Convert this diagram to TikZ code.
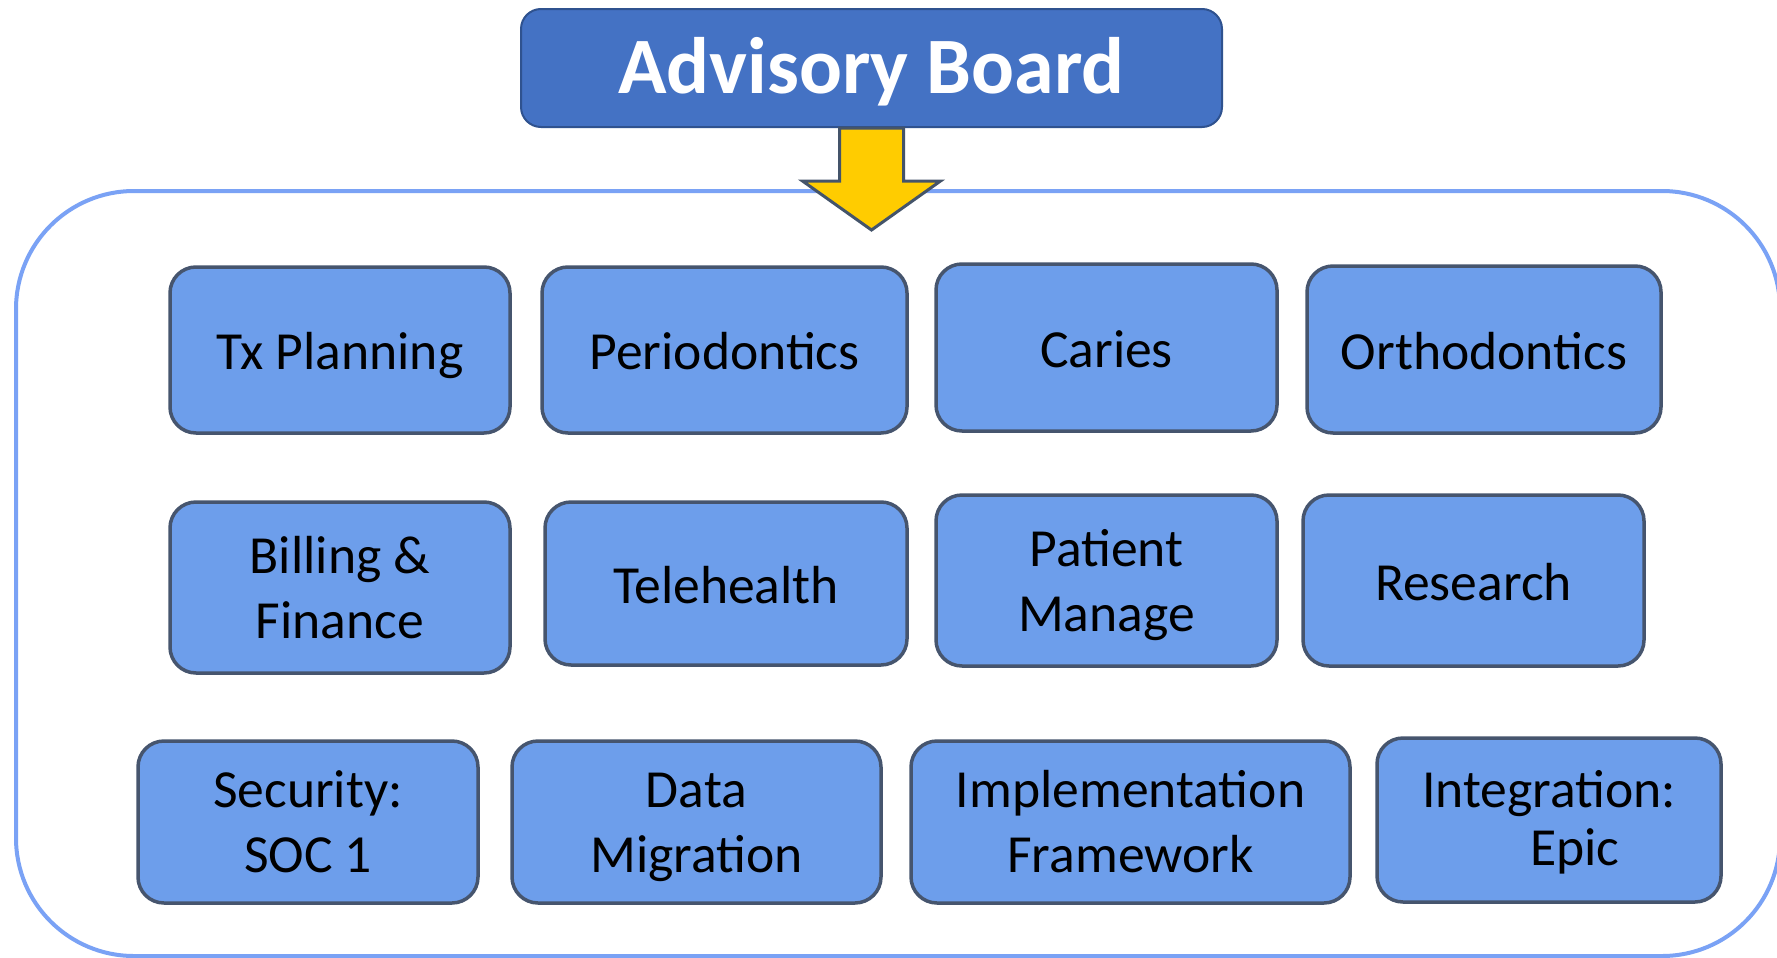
\documentclass[tikz,border=0pt]{standalone}
\usepackage{fontspec}
\setmainfont{Carlito}
\usetikzlibrary{calc}
\definecolor{boxfill}{RGB}{109,158,235}
\definecolor{boxline}{RGB}{70,85,110}
\definecolor{advfill}{RGB}{68,114,196}
\definecolor{advline}{RGB}{47,82,143}
\definecolor{arrfill}{RGB}{255,204,0}
\definecolor{arrline}{RGB}{68,84,106}
\definecolor{frameline}{RGB}{122,162,245}
\newcommand\twol[2]{\begin{tabular}[b]{@{}c@{}}#1\\#2\end{tabular}}
\tikzset{
  box/.style={draw=boxline, line width=1.75pt, fill=boxfill, rounded corners=13pt,
    inner sep=0pt, font=\fontsize{26.8}{32.5}\selectfont, text=black},
  oneline/.style={box, text height=24pt, text depth=4.5pt},
  twoline/.style={box, text height=55.5pt, text depth=5pt},
  advbox/.style={draw=advline, line width=1pt, fill=advfill, rounded corners=10pt,
    inner sep=0pt, text=white, font=\bfseries\fontsize{40}{47}\selectfont,
    text height=30pt, text depth=5pt},
  blockarrow/.style={draw=arrline, line width=1.5pt, fill=arrfill, line join=miter},
  frame/.style={draw=frameline, line width=2pt, rounded corners=59pt}
}
\begin{document}
\begin{tikzpicture}[x=0.5pt,y=-0.5pt]
\useasboundingbox (0,0) rectangle (1777,958);
\fill[white] (0,0) rectangle (1777,958);
% container
\draw[frame] (16,191) rectangle (1780,956);
% header
\node[advbox, minimum width=350.5pt, minimum height=59pt] (adv) at (871.5,68) {Advisory Board};
% block arrow
\coordinate (astart) at ($(adv.south)+(-32,0)$);
\draw[blockarrow] (astart) -- ++(64,0) -- ++(0,53) -- ++(37,0) -- ++(-69,49) -- ++(-69,-49) -- ++(37,0) -- cycle;
% row 1
\node[oneline, minimum width=170pt, minimum height=83pt] (tx) at (340,350) {Tx Planning};
\node[oneline, minimum width=182.5pt, minimum height=83pt] (perio) at (724.5,350) {Periodontics};
\node[oneline, minimum width=170.5pt, minimum height=83.5pt] (caries) at (1106.5,347.5) {Caries};
\node[oneline, minimum width=177pt, minimum height=83.5pt] (ortho) at (1484,349.5) {Orthodontics};
% row 2
\node[twoline, minimum width=170pt, minimum height=85.5pt] (bill) at (340,587.5) {\twol{Billing \&}{Finance}};
\node[oneline, minimum width=181pt, minimum height=81.5pt] (tele) at (726,583.5) {Telehealth};
\node[twoline, minimum width=170.5pt, minimum height=85.5pt] (pat) at (1106.5,580.5) {\twol{Patient}{Manage}};
\node[oneline, minimum width=170.5pt, minimum height=85.5pt] (res) at (1473.5,580.5) {Research};
% row 3
\node[twoline, minimum width=170pt, minimum height=81pt] (sec) at (308,822) {\twol{Security:}{SOC 1}};
\node[twoline, minimum width=184.5pt, minimum height=81pt] (data) at (696.5,822) {\twol{Data}{Migration}};
\node[twoline, minimum width=219.5pt, minimum height=81pt] (impl) at (1130.5,822) {\twol{Implementation}{Framework}};
\node[box, text height=50pt, text depth=5pt, minimum width=172pt, minimum height=82pt] (integ) at (1549,820)
  {\begin{tabular}[b]{@{}c@{}}Integration:\\[-3.5pt]\hspace*{26pt}Epic\end{tabular}};
\end{tikzpicture}
\end{document}
